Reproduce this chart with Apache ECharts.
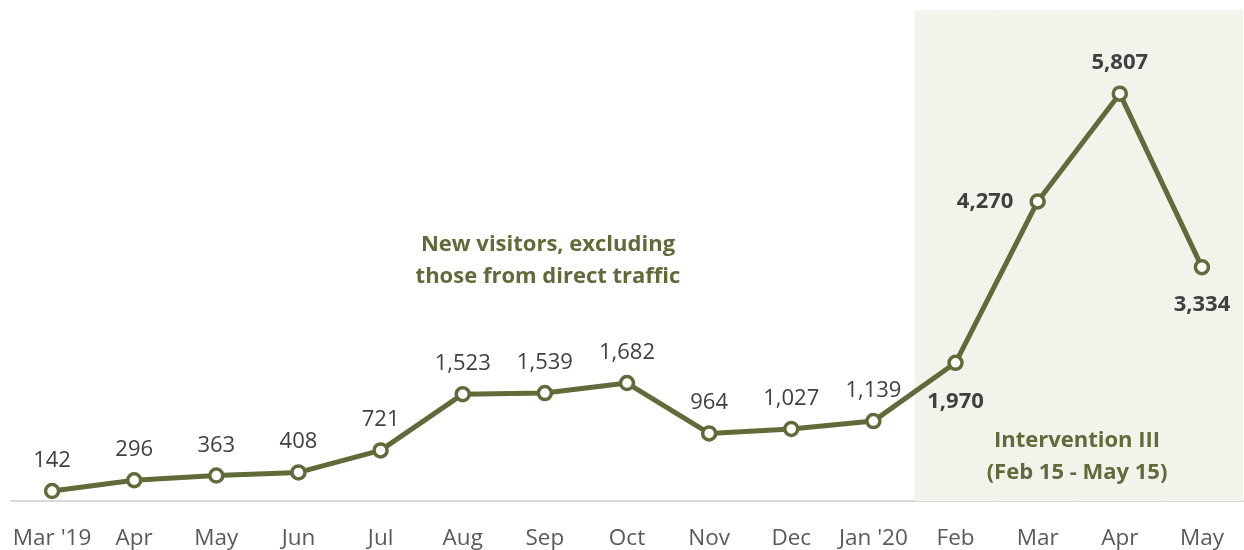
<!DOCTYPE html>
<html>
<head>
<meta charset="utf-8">
<script src="https://cdn.jsdelivr.net/npm/echarts@6/dist/echarts.min.js"></script>
<style>html,body{margin:0;padding:0;background:#fff}#c{width:1244px;height:550px}</style>
</head>
<body>
<div id="c"></div>
<script>
const categories = ["Mar '19","Apr","May","Jun","Jul","Aug","Sep","Oct","Nov","Dec","Jan '20","Feb","Mar","Apr","May"];
const visitors = [142,296,363,408,721,1523,1539,1682,964,1027,1139,1970,4270,5807,3334];
const yMax = 7000;
const interventionStartIndex = 11; // Feb '20
const seriesNote = "New visitors, excluding\nthose from direct traffic";
const interventionNote = "Intervention III\n(Feb 15 - May 15)";

const OLIVE = '#5f6b38';
const FONT = '"Open Sans", "DejaVu Sans", sans-serif';

const shade = categories.map((c, i) => i >= interventionStartIndex ? yMax : null);

const labelPos = (i) => {
  if (i < interventionStartIndex) return { position: 'top', fontWeight: 'normal', distance: 11 };
  if (i === interventionStartIndex) return { position: 'bottom', fontWeight: 'bold', distance: 20 };
  if (i === visitors.length - 3) return { position: 'left', fontWeight: 'bold', distance: 16 };
  if (i === visitors.length - 2) return { position: 'top', fontWeight: 'bold', distance: 12 };
  return { position: 'bottom', fontWeight: 'bold', distance: 18 };
};

const lineData = visitors.map((v, i) => {
  const lp = labelPos(i);
  return {
    value: v,
    label: { position: lp.position, fontWeight: lp.fontWeight, distance: lp.distance }
  };
});

const chart = echarts.init(document.getElementById('c'), null, { renderer: 'canvas' });
chart.setOption({
  animation: false,
  backgroundColor: '#ffffff',
  grid: { left: 11, right: 1, top: 10, bottom: 49, containLabel: false },
  xAxis: {
    type: 'category',
    data: categories,
    boundaryGap: true,
    axisLine: { show: true, lineStyle: { color: '#d9d9d9', width: 2 } },
    axisTick: { show: false },
    axisLabel: { color: '#595959', fontSize: 22.5, fontFamily: FONT, margin: 26, interval: 0 },
    splitLine: { show: false }
  },
  yAxis: {
    type: 'value',
    min: 0,
    max: yMax,
    show: false,
    splitLine: { show: false }
  },
  series: [
    {
      type: 'bar',
      data: shade,
      barWidth: '100%',
      barGap: '-100%',
      silent: true,
      z: 1,
      itemStyle: { color: '#f2f3eb' },
      label: { show: false }
    },
    {
      type: 'line',
      data: lineData,
      z: 5,
      symbol: 'circle',
      symbolSize: 13,
      itemStyle: { color: '#ffffff', borderColor: OLIVE, borderWidth: 3.5 },
      lineStyle: { color: OLIVE, width: 5 },
      label: {
        show: true,
        color: '#404040',
        fontSize: 22,
        fontFamily: FONT,
        formatter: (p) => p.value.toLocaleString('en-US')
      }
    }
  ],
  graphic: [
    {
      type: 'text',
      z: 100,
      left: 548 - 150, top: 229,
      style: {
        text: seriesNote, width: 300, x: 150,
        fill: OLIVE, font: 'bold 22px ' + FONT, lineHeight: 32, textAlign: 'center'
      }
    },
    {
      type: 'text',
      z: 100,
      left: 1077 - 150, top: 425,
      style: {
        text: interventionNote, width: 300, x: 150,
        fill: OLIVE, font: 'bold 22px ' + FONT, lineHeight: 32, textAlign: 'center'
      }
    }
  ]
});
</script>
</body>
</html>
